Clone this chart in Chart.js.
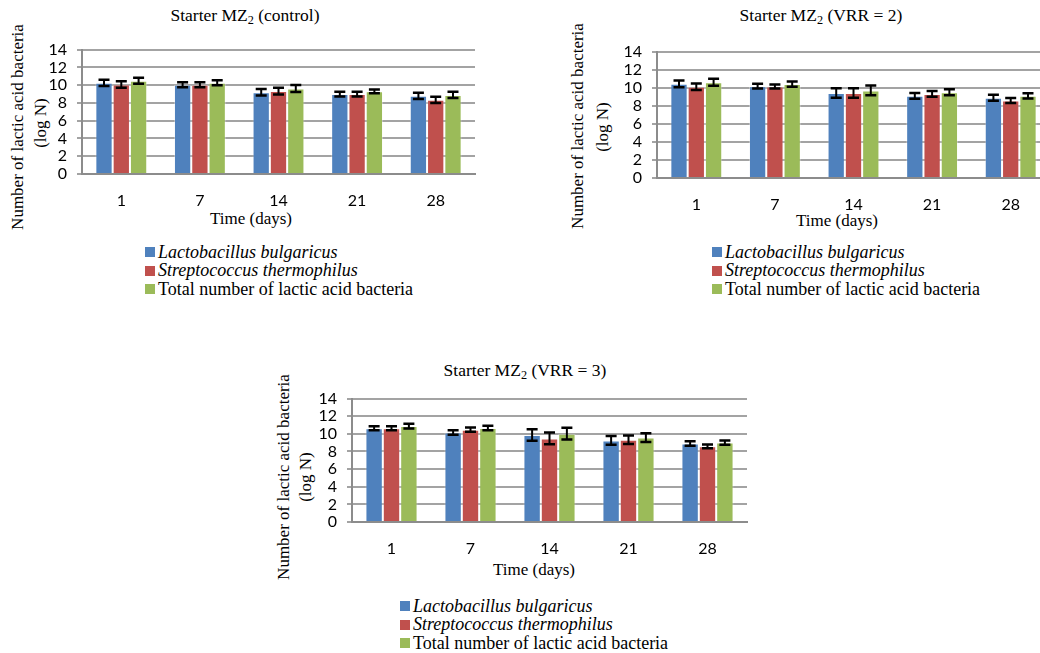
<!DOCTYPE html>
<html>
<head>
<meta charset="utf-8">
<script src="https://cdn.jsdelivr.net/npm/chart.js@4.4.1/dist/chart.umd.min.js"></script>
<style>
  body { margin: 0; width: 1040px; height: 653px; overflow: hidden; background: #fff; position: relative;
         font-family: 'Liberation Serif', 'Times New Roman', serif; color: #000; }
  canvas { position: absolute; }
  .lbl { position: absolute; white-space: nowrap; transform: translate(-50%, -50%); }
  .title { font-size: 17.5px; }
  .axt { font-size: 17px; }
  .rot { transform: translate(-50%, -50%) rotate(-90deg); }
  sub { font-size: 0.7em; vertical-align: -0.3em; line-height: 0; }
  .legend { position: absolute; font-size: 18px; line-height: 18.4px; }
  .legend div { display: flex; align-items: center; white-space: nowrap; }
  .legend .sw { width: 10px; height: 10px; margin-right: 3px; display: inline-block; }
</style>
</head>
<body>

<!-- panel 1 -->
<div class="lbl title" style="left:245px;top:15px">Starter MZ<sub>2</sub> (control)</div>
<div class="lbl axt rot" style="left:18px;top:127px">Number of lactic acid bacteria</div>
<div class="lbl axt rot" style="left:41px;top:123px">(log N)</div>
<div class="lbl axt" style="left:251px;top:219px">Time (days)</div>
<div class="legend" id="leg1" style="left:145px;top:243px"></div>
<canvas id="c1"></canvas>

<!-- panel 2 -->
<div class="lbl title" style="left:821px;top:15px">Starter MZ<sub>2</sub> (VRR = 2)</div>
<div class="lbl axt rot" style="left:578px;top:126px">Number of lactic acid bacteria</div>
<div class="lbl axt rot" style="left:603px;top:127px">(log N)</div>
<div class="lbl axt" style="left:837px;top:221px">Time (days)</div>
<div class="legend" id="leg2" style="left:712px;top:243px"></div>
<canvas id="c2"></canvas>

<!-- panel 3 -->
<div class="lbl title" style="left:525px;top:370px">Starter MZ<sub>2</sub> (VRR = 3)</div>
<div class="lbl axt rot" style="left:284px;top:477px">Number of lactic acid bacteria</div>
<div class="lbl axt rot" style="left:306px;top:477px">(log N)</div>
<div class="lbl axt" style="left:534px;top:570px">Time (days)</div>
<div class="legend" id="leg3" style="left:400px;top:597px"></div>
<canvas id="c3"></canvas>

<script>
// categories and series
const days = ['1', '7', '14', '21', '28'];
const seriesNames = ['Lactobacillus bulgaricus', 'Streptococcus thermophilus', 'Total number of lactic acid bacteria'];
const seriesItalic = [true, true, false];
const seriesColors = ['#4F81BD', '#C0504D', '#9BBB59'];

// Starter MZ2 (control)
const ctrlLb = [10.26, 10.04, 9.2, 9.0, 8.8];
const ctrlSt = [10.08, 10.04, 9.33, 9.0, 8.35];
const ctrlTot = [10.5, 10.26, 9.62, 9.3, 8.9];
const ctrlLbErr = [0.36, 0.28, 0.37, 0.27, 0.35];
const ctrlStErr = [0.36, 0.28, 0.37, 0.27, 0.35];
const ctrlTotErr = [0.34, 0.28, 0.39, 0.22, 0.35];

// Starter MZ2 (VRR = 2)
const vrr2Lb = [10.43, 10.17, 9.42, 9.1, 8.89];
const vrr2St = [10.11, 10.13, 9.42, 9.31, 8.58];
const vrr2Tot = [10.6, 10.4, 9.7, 9.49, 9.1];
const vrr2LbErr = [0.38, 0.26, 0.53, 0.32, 0.32];
const vrr2StErr = [0.37, 0.23, 0.53, 0.32, 0.28];
const vrr2TotErr = [0.38, 0.28, 0.54, 0.33, 0.3];

// Starter MZ2 (VRR = 3)
const vrr3Lb = [10.63, 10.16, 9.87, 9.26, 8.9];
const vrr3St = [10.63, 10.48, 9.48, 9.33, 8.58];
const vrr3Tot = [10.88, 10.66, 10.02, 9.58, 9.01];
const vrr3LbErr = [0.23, 0.25, 0.66, 0.5, 0.25];
const vrr3StErr = [0.23, 0.25, 0.66, 0.48, 0.21];
const vrr3TotErr = [0.27, 0.25, 0.66, 0.5, 0.25];

const yTicks = { min: 0, max: 14, step: 2 };

// error bars drawn through the chart's own scales
const errorBars = {
  id: 'errorBars',
  afterDatasetsDraw(chart) {
    const ctx = chart.ctx;
    const y = chart.scales.y;
    ctx.save();
    ctx.strokeStyle = '#000';
    chart.data.datasets.forEach((ds, i) => {
      chart.getDatasetMeta(i).data.forEach((bar, j) => {
        const v = ds.data[j];
        const e = ds.errors[j];
        const top = y.getPixelForValue(v + e);
        const bot = y.getPixelForValue(v - e);
        ctx.lineWidth = 2;
        ctx.beginPath();
        ctx.moveTo(bar.x, top);
        ctx.lineTo(bar.x, bot);
        ctx.stroke();
        ctx.lineWidth = 2.5;
        ctx.beginPath();
        ctx.moveTo(bar.x - 5.5, top);
        ctx.lineTo(bar.x + 5.5, top);
        ctx.moveTo(bar.x - 5.5, bot);
        ctx.lineTo(bar.x + 5.5, bot);
        ctx.stroke();
      });
    });
    ctx.restore();
  }
};

function makePanel(canvasId, box, values, errors) {
  const canvas = document.getElementById(canvasId);
  canvas.width = box.width;
  canvas.height = box.height;
  canvas.style.left = box.left + 'px';
  canvas.style.top = box.top + 'px';

  return new Chart(canvas.getContext('2d'), {
    type: 'bar',
    data: {
      labels: days,
      datasets: values.map((vals, i) => ({
        label: seriesNames[i],
        data: vals,
        errors: errors[i],
        backgroundColor: seriesColors[i],
        borderColor: 'rgba(255,255,255,0.35)',
        borderWidth: 1,
        barPercentage: 1,
        categoryPercentage: 0.66
      }))
    },
    options: {
      responsive: false,
      animation: false,
      devicePixelRatio: 1,
      layout: { padding: { top: 13, bottom: 1, left: 0, right: box.padRight } },
      plugins: { legend: { display: false }, tooltip: { enabled: false } },
      scales: {
        x: {
          grid: { display: false },
          border: { display: true, color: '#8c8c8c', width: 2 },
          ticks: { color: '#000', padding: 9, font: { family: 'Lato', size: 16 } },
          afterFit(scale) { scale.height = 40; }
        },
        y: {
          min: yTicks.min,
          max: yTicks.max,
          grid: { color: '#a3a3a3', lineWidth: 2, tickLength: 5 },
          border: { display: true, color: '#8c8c8c', width: 2 },
          ticks: { stepSize: yTicks.step, autoSkip: false, color: '#000', padding: 10,
                   font: { family: 'Lato', size: 16 } },
          afterFit(scale) { scale.width = 82; }
        }
      }
    },
    plugins: [errorBars]
  });
}

function makeLegend(id) {
  const el = document.getElementById(id);
  seriesNames.forEach((name, i) => {
    const row = document.createElement('div');
    const sw = document.createElement('span');
    sw.className = 'sw';
    sw.style.background = seriesColors[i];
    const txt = document.createElement('span');
    txt.textContent = name;
    if (seriesItalic[i]) txt.style.fontStyle = 'italic';
    row.appendChild(sw);
    row.appendChild(txt);
    el.appendChild(row);
  });
}

makePanel('c1', { left: 0, top: 30, width: 480, height: 185, padRight: 5 },
  [ctrlLb, ctrlSt, ctrlTot], [ctrlLbErr, ctrlStErr, ctrlTotErr]);
makePanel('c2', { left: 575, top: 32, width: 475, height: 187, padRight: 0 },
  [vrr2Lb, vrr2St, vrr2Tot], [vrr2LbErr, vrr2StErr, vrr2TotErr]);
makePanel('c3', { left: 270, top: 379, width: 482, height: 184, padRight: 5 },
  [vrr3Lb, vrr3St, vrr3Tot], [vrr3LbErr, vrr3StErr, vrr3TotErr]);

makeLegend('leg1');
makeLegend('leg2');
makeLegend('leg3');
</script>
</body>
</html>
